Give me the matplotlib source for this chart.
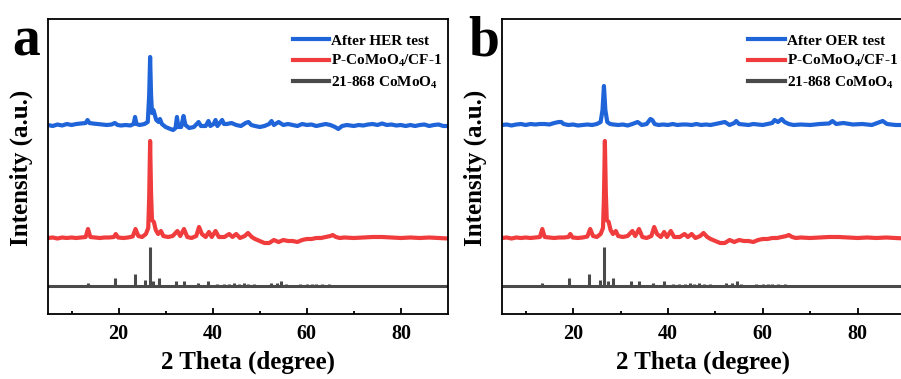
import matplotlib
matplotlib.use("Agg")
import matplotlib.pyplot as plt

plt.rcParams['font.family'] = ['Liberation Serif', 'DejaVu Serif']
plt.rcParams['font.weight'] = 'bold'
plt.rcParams['mathtext.fontset'] = 'custom'
plt.rcParams['mathtext.rm'] = 'Liberation Serif:bold'
plt.rcParams['mathtext.it'] = 'Liberation Serif:bold'
plt.rcParams['mathtext.bf'] = 'Liberation Serif:bold'

# ---------------- data ----------------
# Reference pattern JCPDS 21-868 CoMoO4 (2theta, relative height)
ref_pos = [13.4, 19.2, 23.4, 25.6, 26.6, 27.4, 28.5, 32.2, 33.8, 36.9, 39.1,
           41.0, 42.4, 43.5, 44.6, 45.6, 46.6, 47.5, 48.8, 52.3, 53.6, 54.6,
           55.5, 58.6, 60.1, 61.1, 62.0, 63.3, 64.7]
ref_int = [3, 8, 12, 6, 39, 5, 8, 5, 5, 3, 5,
           2, 2, 2, 3, 2, 3, 2, 2, 3, 3, 5,
           2, 2, 2, 2, 2, 2, 2]

# After HER test (panel a)
her_x = [5, 6, 7, 8, 9, 10, 11, 12, 13, 13.4, 13.8, 14.5, 15.5, 16.5, 17.5, 18.5, 19.2, 19.8,
         20.5, 21.5, 22.5, 23.2, 23.5, 23.8, 24.5, 25.5, 26.2, 26.5, 26.7, 26.9, 27.1, 27.4,
         27.7, 28.0, 28.5, 28.8, 29.2, 30, 31, 31.6, 32.1, 32.4, 32.7, 33.3, 33.8, 34.2, 35,
         36, 37, 37.5, 38.5, 39.1, 39.5, 40.2, 40.6, 41.0, 41.5, 42.0, 42.4, 43, 44, 45, 46,
         47, 47.6, 48.2, 49, 50, 51, 52, 52.5, 53, 54, 55, 56, 57, 58, 59, 60, 61, 62, 63, 64,
         65, 66, 66.7, 67.5, 68.5, 70, 71, 72, 73, 74, 75, 76, 77, 78, 79, 80, 81, 82, 83, 84,
         85, 86, 87, 88, 89, 90]
her_y = [0, -1, 0.5, -0.5, 1, 0, 1, 1.5, 2, 5, 2, 1.5, 1, 0.5, 0, 0.5, 2, 0,
         -0.5, 0, -0.5, 1, 8, 1, 0, 1, 3, 30, 68, 30, 12, 15,
         10, 5, 3, 6, 1, -2, -4, -5, -3, 8, -2, -2, 9, 0, -3,
         -2, 3, -1, -1, 4, -1, 1, 5, -1, 2, 5, 1, 1, 2, 0, -1,
         2, 3, 0, -1, -2, -1, 1, 4, 0, 3, 0, 1, 0, -1, 1, 0, 0.5, -1, 0, 1,
         0, -2, -4, -1, 0, -1, 0, -0.5, 0.5, 1, 0, 1.5, 0, 0.5, -0.5, 0, -1, 0, -1, 0,
         0.5, -1, 0, 0.5, -1, -1]

# P-CoMoO4/CF-1 (both panels)
pcm_x = [5, 6, 7, 8, 9, 10, 11, 12, 13, 13.5, 14, 15, 16, 17, 18, 19, 19.4, 19.9, 21, 22,
         23, 23.6, 24.2, 25, 25.8, 26.3, 26.5, 26.7, 26.9, 27.1, 27.5, 27.9, 28.4, 29.0, 29.5,
         30.5, 31.5, 32.5, 33.1, 33.9, 34.6, 35.5, 36.5, 37.1, 37.7, 38.5, 39.2, 39.8, 40.6,
         41.3, 42.5, 43.5, 44.2, 45.0, 45.8, 46.8, 47.5, 48.3, 49, 50, 51, 52, 53, 54, 55,
         56, 57, 58, 59, 60, 61, 62, 63, 64, 65, 65.5, 66.2, 67, 68, 70, 72, 74, 76, 78, 80,
         82, 84, 86, 88, 90]
pcm_y = [0, 0.5, -0.5, 0.5, 0, 0.5, 0, 0.5, 1, 9, 1, 0.5, 0, 0.5, 0.5, 1, 4, 0.5, 0, 0.5,
         1.5, 9, 2, 1, 4, 10, 40, 97, 45, 18, 16, 8, 4, 7, 2,
         1, 2, 7, 2, 9, 1, 0, 2, 11, 4, 1, 6, 1, 7,
         1, 1, 4, 1, 4, 0, 2, 5, 1, -1, -3, -5, -5, -2, -4, -2,
         -3, -3, -4, -2, -1, -1, 0, 0, 1, 2, 3, 1, 0, 0.5, 0, 0.5, 1, 1, 0.5, 0,
         0.5, 0, 0.5, 0, -0.5]

# After OER test (panel b)
oer_x = [5, 6, 7, 8, 9, 10, 11, 12, 13, 14, 15, 16, 17, 17.5, 18, 19, 20, 21, 22, 23, 24,
         25, 25.8, 26.2, 26.5, 26.8, 27.2, 27.8, 28.5, 29.5, 30.5, 31.5, 32.5, 33.6, 34.5,
         35.5, 36.3, 36.7, 37.2, 38, 39, 40, 41, 42, 43, 44, 45, 46, 47, 48, 49, 50, 51, 52,
         53, 54, 54.4, 55, 56, 57, 58, 59, 60, 61, 62, 62.5, 63.2, 64.0, 64.6, 65.5, 66.5,
         68, 70, 72, 74, 74.7, 75.5, 77, 79, 81, 83, 85.3, 86.2, 88, 90]
oer_y = [0, 0.5, -0.5, 0.5, 1, 0, 1, 0.5, 1, 1, 0.5, 2, 3, 3, 1, 0, 0.5, -0.5, 0, 0.5, 0,
         1, 3, 15, 39, 15, 3, 1, 0.5, 0, 0.5, -0.5, 1, 3, 0,
         1, 6, 5, 1, 0, 0.5, 0, 1, 0, 0.5, 0.5, 0, 1, 0, 0.5, 0, 1, 2, 3,
         0, 2, 4, 1, 0.5, 0, 1, 0.5, 0, 1, 2, 5, 3, 6, 3, 1, 0,
         0.5, 0, 1, 1.5, 4, 1, 2, 0.5, 1, 0, 4, 1, 0, 0]

labels_a = ['After HER test', r'P-CoMoO$_4$/CF-1', r'21-868 CoMoO$_4$']
labels_b = ['After OER test', r'P-CoMoO$_4$/CF-1', r'21-868 CoMoO$_4$']

# ---------------- style ----------------
c_blue = '#1f64d8'
c_red = '#f03c3c'
c_ref = '#4a4a4a'
off_ref, off_red, off_blue = 28, 76, 189

W, H = 901, 379
fig = plt.figure(figsize=(W / 100, H / 100), dpi=100)
ax_a = fig.add_axes([48 / W, 65 / H, 400 / W, 295 / H])
ax_b = fig.add_axes([502 / W, 65 / H, 403 / W, 295 / H])


def draw(ax, top_x, top_y, labels, ylab_x):
    l1, = ax.plot(top_x, [v + off_blue for v in top_y], color=c_blue, lw=3.0,
                  solid_joinstyle='round', label=labels[0])
    l2, = ax.plot(pcm_x, [v + off_red for v in pcm_y], color=c_red, lw=3.0,
                  solid_joinstyle='round', label=labels[1])
    ax.vlines(ref_pos, off_ref, [v + off_ref for v in ref_int], color=c_ref, lw=2.2)
    l3 = ax.axhline(off_ref, color=c_ref, lw=2.2, label=labels[2])
    ax.set_xlim(5, 90)
    ax.set_ylim(0, 295)
    ax.set_yticks([])
    ax.set_xticks([20, 40, 60, 80])
    ax.set_xticks([10, 30, 50, 70], minor=True)
    ax.tick_params(axis='x', which='major', direction='in', length=4, width=1.3,
                   labelsize=14.5, pad=7)
    ax.tick_params(axis='x', which='minor', direction='in', length=2.5, width=1.3)
    for lab in ax.get_xticklabels():
        lab.set_fontweight('bold')
    for s in ax.spines.values():
        s.set_linewidth(1.3)
    ax.set_xlabel('2 Theta (degree)', fontsize=18, fontweight='bold', labelpad=5)
    ax.set_ylabel('Intensity (a.u.)', fontsize=18, fontweight='bold')
    ax.yaxis.set_label_coords(ylab_x, 0.495)
    leg = ax.legend(handles=[l1, l2, l3], loc='upper left', frameon=False,
                    bbox_to_anchor=(0.585, 0.985), prop={'size': 11, 'weight': 'bold'},
                    handlelength=2.4, handletextpad=0.1, labelspacing=0.35,
                    borderaxespad=0.3)
    for ln in leg.get_lines():
        ln.set_linewidth(3.0)
    return ax


draw(ax_a, her_x, her_y, labels_a, -0.037)
draw(ax_b, oer_x, oer_y, labels_b, -0.036)

fig.text(12 / W, 1 - 56 / H, 'a', fontsize=40, fontweight='bold', ha='left', va='baseline')
fig.text(468 / W, 1 - 55 / H, 'b', fontsize=40, fontweight='bold', ha='left', va='baseline')

fig.savefig('out.png', dpi=100)
